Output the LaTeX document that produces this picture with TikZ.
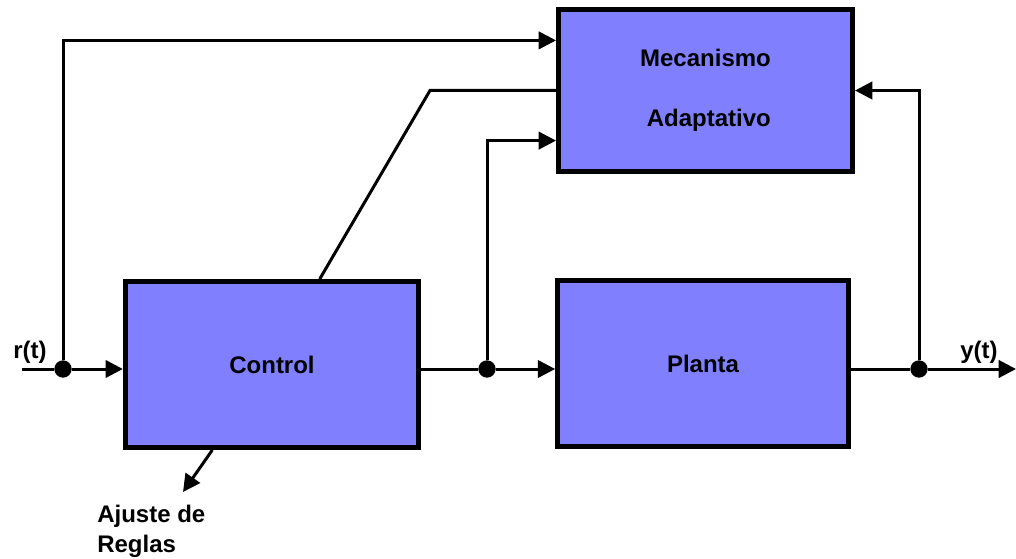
\documentclass[tikz,border=0pt]{standalone}
\usepackage{fontspec}
\setmainfont{Liberation Sans}
\usepackage{tikz}
\usetikzlibrary{calc}
\usetikzlibrary{arrows.meta}
\usetikzlibrary{positioning}

\definecolor{blockblue}{HTML}{8080FF}

\begin{document}
\begin{tikzpicture}[x=0.75pt, y=-0.75pt,
        font=\fontsize{18}{22.5}\selectfont\bfseries,
        block/.style={draw, fill=blockblue, line width=3.75pt, minimum width=220pt, minimum height=124.5pt, align=center},
        wire/.style={line width=2.25pt},
        sig/.style={wire, -{Triangle[length=13pt, width=13pt]}},
        junction/.style={circle, fill, inner sep=0pt, minimum size=13pt}]
            \useasboundingbox (0,0) rectangle (1016,559);

            \draw (272,364.5) node[block] (control) {Control};
            \draw (703,363.5) node[block, minimum width=218pt] (planta) {Planta};
            \draw (705.5,90.5) node[block, minimum width=220.5pt, minimum height=121.5pt] (mec) {Mecanismo\\[22.5pt]\ Adaptativo};

            \draw (22,369) coordinate (rin);
            \draw (63,369) node[junction] (jin) {};
            \draw (487,369) node[junction] (jmid) {};
            \draw (919,369) node[junction] (jout) {};
            \draw (1016,369) coordinate (yout);
            \draw (430,0) coordinate (bend);
            \draw (183,492) coordinate (ajuste);

            \draw (13,358) node[anchor=base west, inner sep=0pt] (rlbl) {r(t)};
            \draw (960,358) node[anchor=base west, inner sep=0pt] (ylbl) {y(t)};
            \draw (97,505) node[anchor=north west, inner sep=0pt, align=left] (ajustelbl) {Ajuste de\\Reglas};

            \draw[wire] (rin) -- (jin);
            \draw[sig] (jin) -- (jin -| control.west);
            \draw[sig] (jin) |- ($(mec.north west)!0.2!(mec.south west)$);

            \draw[wire] (jin -| control.east) -- (jmid);
            \draw[sig] (jmid) -- (jmid -| planta.west);
            \draw[sig] (jmid) |- ($(mec.north west)!0.8!(mec.south west)$);

            \draw[wire] (jout -| planta.east) -- (jout);
            \draw[sig] (jout) -- (yout);
            \draw[sig] (jout) |- (mec.east);

            \draw[wire] ($(control.north west)!0.66!(control.north east)$) -- (bend |- mec.west) -- (mec.west);
            \draw[sig] ($(control.south west)!0.3!(control.south east)$) -- (ajuste);
        \end{tikzpicture}
\end{document}
